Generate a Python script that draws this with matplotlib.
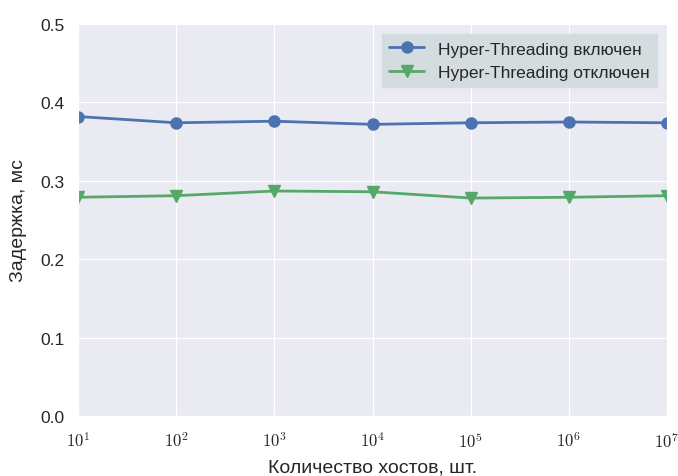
import matplotlib
matplotlib.use("Agg")
import matplotlib.pyplot as plt
import matplotlib.ticker as mticker
import seaborn as sns
import math

hosts = [1e1, 1e2, 1e3, 1e4, 1e5, 1e6, 1e7]
ht_on = [0.382, 0.374, 0.376, 0.372, 0.374, 0.375, 0.374]
ht_off = [0.279, 0.281, 0.287, 0.286, 0.278, 0.279, 0.281]

sns.set_style("darkgrid")
plt.rcParams['font.family'] = ['Liberation Sans', 'DejaVu Sans']
plt.rcParams['mathtext.fontset'] = 'cm'

fig = plt.figure(figsize=(6.78, 4.77), dpi=100)
ax = fig.add_axes([78 / 678, 60 / 477, 589 / 678, 392 / 477])

ax.plot(hosts, ht_on, color="#4c72b0", marker="o", markersize=8, linewidth=2,
        label="Hyper-Threading включен")
ax.plot(hosts, ht_off, color="#55a868", marker="v", markersize=8, linewidth=2,
        label="Hyper-Threading отключен")

ax.set_xscale("log")
ax.set_xlim(1e1, 1e7)
ax.set_ylim(0, 0.5)
ax.set_yticks([0.0, 0.1, 0.2, 0.3, 0.4, 0.5])
ax.minorticks_off()
ax.xaxis.set_major_formatter(mticker.FuncFormatter(
    lambda v, p: r"$10^{%d}$" % round(math.log10(v))))
ax.tick_params(axis="y", labelsize=12.5, colors="#262626", pad=6)
ax.tick_params(axis="x", labelsize=12, colors="#262626", pad=7)

ax.set_xlabel("Количество хостов, шт.", fontsize=14, color="#262626", labelpad=6)
ax.set_ylabel("Задержка, мс", fontsize=14, color="#262626", labelpad=10)

leg = ax.legend(loc="upper right", frameon=True, fontsize=12.5, fancybox=False,
                borderaxespad=0.6)
leg.get_frame().set_facecolor("#d5dcdf")
leg.get_frame().set_edgecolor("#d5dcdf")
leg.get_frame().set_alpha(1)

fig.savefig("out.png", dpi=100)
